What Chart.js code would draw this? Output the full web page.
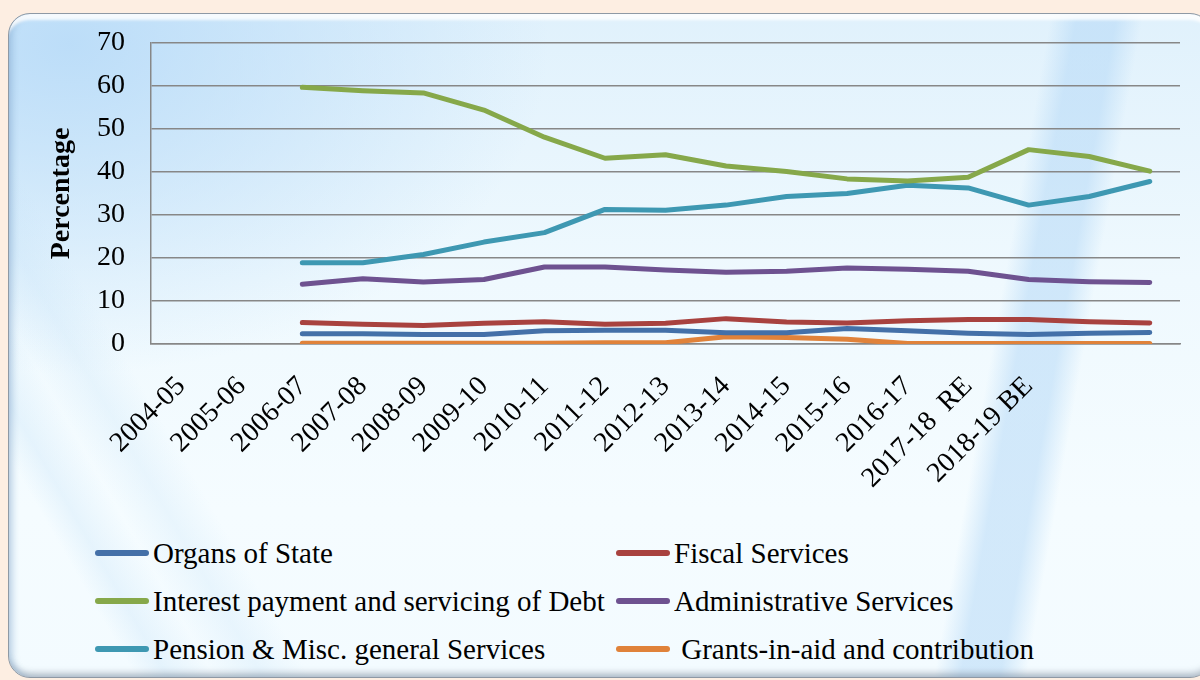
<!DOCTYPE html>
<html>
<head>
<meta charset="utf-8">
<script src="https://cdn.jsdelivr.net/npm/chart.js@4.4.1/dist/chart.umd.min.js"></script>
<style>
  body {
    margin: 0;
    width: 1200px;
    height: 680px;
    overflow: hidden;
    background: #fdeee2;
    font-family: 'Liberation Serif', 'Times New Roman', serif;
  }
  .box {
    position: absolute;
    left: 8px;
    top: 13px;
    width: 1204px;
    height: 665px;
    box-sizing: border-box;
    border-radius: 22px;
    border: 1px solid #8e99a5;
    background:
      linear-gradient(100deg, rgba(255,255,255,0) 79%, rgba(176,214,246,0.5) 81%, rgba(176,214,246,0.5) 84%, rgba(255,255,255,0) 86%),
      linear-gradient(60deg, rgba(255,255,255,0) 8%, rgba(195,225,247,0.3) 10%, rgba(255,255,255,0) 13%, rgba(195,225,247,0.25) 16%, rgba(255,255,255,0) 19%),
      radial-gradient(ellipse 480px 330px at 60px 30px, rgba(184,219,248,0.9), rgba(184,219,248,0) 100%),
      linear-gradient(180deg, #e0f1fc 0%, #eff9fe 40%, #f5fcff 75%, #f3fbff 100%);
    box-shadow: inset 0 9px 3px -3px rgba(255,255,255,0.85), inset 6px 0 6px -2px rgba(120,160,200,0.4), inset 0 -7px 6px -3px rgba(110,125,140,0.45);
  }
  #wrap {
    position: absolute;
    left: 0;
    top: 0;
    width: 1200px;
    height: 520px;
  }
  #legend {
    position: absolute;
    left: 95px;
    top: 529px;
    display: grid;
    grid-template-columns: 521px auto;
    grid-auto-rows: 48px;
  }
  .item {
    display: flex;
    align-items: center;
    font-size: 29px;
    color: #000;
    white-space: pre;
  }
  .mark {
    width: 54px;
    height: 6px;
    border-radius: 3px;
    margin-right: 4px;
  }
</style>
</head>
<body>
<div class="box"></div>
<div id="wrap"><canvas id="shares" width="1200" height="520"></canvas></div>
<div id="legend"></div>
<script>
const years = [
  '2004-05', '2005-06', '2006-07', '2007-08', '2008-09', '2009-10', '2010-11',
  '2011-12', '2012-13', '2013-14', '2014-15', '2015-16', '2016-17',
  '2017-18  RE', '2018-19 BE', '', '',
]

const organsOfState = [null, null, 2.4, 2.4, 2.2, 2.2, 3.1, 3.2, 3.2, 2.6, 2.6, 3.6, 3.1, 2.5, 2.2, 2.5, 2.7]
const fiscalServices = [null, null, 5.0, 4.6, 4.3, 4.8, 5.2, 4.6, 4.8, 5.9, 5.1, 4.9, 5.4, 5.7, 5.7, 5.2, 4.9]
const interestDebt = [null, null, 59.7, 58.9, 58.4, 54.4, 48.1, 43.2, 44.0, 41.4, 40.1, 38.4, 37.9, 38.8, 45.2, 43.6, 40.2]
const adminServices = [null, null, 13.9, 15.2, 14.4, 15.0, 17.9, 17.9, 17.2, 16.7, 16.9, 17.7, 17.4, 16.9, 15.0, 14.5, 14.3]
const pensionMisc = [null, null, 18.9, 18.9, 20.8, 23.7, 25.9, 31.3, 31.1, 32.3, 34.3, 35.0, 36.9, 36.3, 32.3, 34.3, 37.8]
const grantsInAid = [null, null, 0.2, 0.2, 0.2, 0.2, 0.2, 0.3, 0.3, 1.7, 1.5, 1.1, 0.1, 0.1, 0.1, 0.1, 0.1]

const yTicks = [0, 10, 20, 30, 40, 50, 60, 70]

const series = [
  { label: 'Organs of State', data: organsOfState, color: '#4470a8' },
  { label: 'Fiscal Services', data: fiscalServices, color: '#a8423f' },
  { label: 'Interest payment and servicing of Debt', data: interestDebt, color: '#86a84a' },
  { label: 'Administrative Services', data: adminServices, color: '#6e5290' },
  { label: 'Pension & Misc. general Services', data: pensionMisc, color: '#3e98b2' },
  { label: ' Grants-in-aid and contribution', data: grantsInAid, color: '#e0823a' },
]

const serif = "'Liberation Serif', 'Times New Roman', serif"
const gridColor = '#878787'

const ctx = document.getElementById('shares').getContext('2d')
const chart = new Chart(ctx, {
  type: 'line',
  data: {
    labels: years,
    datasets: series.map((s) => ({
      label: s.label,
      data: s.data,
      borderColor: s.color,
      backgroundColor: s.color,
      borderWidth: 5,
      borderCapStyle: 'round',
      borderJoinStyle: 'round',
      pointRadius: 0,
      tension: 0,
      fill: false,
    })),
  },
  options: {
    responsive: false,
    animation: false,
    devicePixelRatio: 1,
    layout: {
      padding: { top: 43, right: 20, bottom: 0, left: 0 },
    },
    scales: {
      x: {
        offset: true,
        grid: { display: false },
        border: { color: gridColor, width: 1.5 },
        ticks: {
          autoSkip: false,
          maxRotation: 45,
          minRotation: 45,
          padding: 18,
          color: '#000',
          font: { family: serif, size: 28 },
        },
        afterFit: (scale) => {
          scale.height = 176
        },
      },
      y: {
        min: 0,
        max: 70,
        afterBuildTicks: (scale) => {
          scale.ticks = yTicks.map((v) => ({ value: v }))
        },
        grid: { color: gridColor, lineWidth: 1.5, drawTicks: false },
        border: { color: gridColor, width: 1.5 },
        ticks: {
          padding: 26,
          color: '#000',
          font: { family: serif, size: 28 },
        },
        title: {
          display: true,
          text: 'Percentage',
          color: '#000',
          padding: { top: 45, bottom: 0 },
          font: { family: serif, size: 28, weight: 'bold' },
        },
        afterFit: (scale) => {
          scale.width = 151
        },
      },
    },
    plugins: {
      legend: { display: false },
      tooltip: { enabled: false },
    },
  },
})

// legend in two columns, like the original sheet
const legendEl = document.getElementById('legend')
chart.data.datasets.forEach((ds) => {
  const item = document.createElement('div')
  item.className = 'item'
  const mark = document.createElement('span')
  mark.className = 'mark'
  mark.style.background = ds.borderColor
  const text = document.createElement('span')
  text.textContent = ds.label
  item.append(mark, text)
  legendEl.append(item)
})
</script>
</body>
</html>
